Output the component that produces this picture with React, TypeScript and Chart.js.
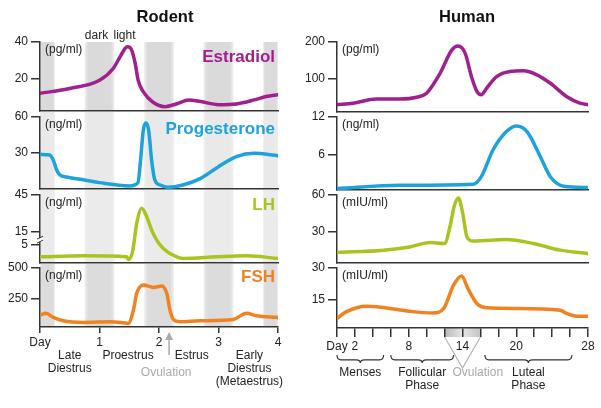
import React, { useEffect, useRef } from 'react';
import { Chart, registerables } from 'chart.js';

Chart.register(...registerables);

const FONT = '"Liberation Sans", Arial, Helvetica, sans-serif';
const TEXT = '#222222';
const AXIS = '#333333';

// ---------------- Rodent (days 0..4) ----------------
const rodentTickDays = [0, 1, 2, 3, 4];
const rodentTickLabels = ['Day', '1', '2', '3', '4'];
const darkStarts = [0, 0.75, 1.75, 2.75, 3.75];
const darkEnds = [0.25, 1.25, 2.25, 3.25, 4];
const rodentPhaseNames = ['Late\nDiestrus', 'Proestrus', 'Estrus', 'Early\nDiestrus\n(Metaestrus)'];
const rodentPhaseDays = [0.5, 1.48, 2.55, 3.52];
const rodentOvulationDay = 2.17;

const rE2Days = [0, 0.5, 1.0, 1.23, 1.345, 1.43, 1.474, 1.54, 1.6, 1.65, 1.74, 1.9, 2.1, 2.3, 2.5, 2.7, 3.0, 3.3, 3.6, 3.8, 4.0];
const rE2Vals = [11.7, 14.4, 18.9, 25.4, 31.8, 36.5, 37.4, 35.6, 28.2, 18.9, 12.4, 6.8, 4.4, 6, 8.1, 7.2, 5.5, 5.9, 8.1, 10, 11];

const rP4Days = [0, 0.12, 0.168, 0.224, 0.28, 0.336, 0.45, 0.75, 1.0, 1.5, 1.647, 1.69, 1.736, 1.78, 1.826, 1.876, 1.93, 2.02, 2.15, 2.4, 2.7, 3.0, 3.3, 3.6, 4.0];
const rP4Vals = [28.9, 28.6, 28.3, 24, 15.8, 11.7, 10, 7.5, 5.3, 2.5, 5.3, 24, 49, 55, 49, 24, 7.5, 3.3, 1.4, 3.3, 8.9, 18.6, 27, 29.7, 27.8];

const rLHDays = [0, 0.73, 1.457, 1.485, 1.557, 1.625, 1.709, 1.793, 1.877, 1.961, 2.073, 2.24, 2.41, 2.97, 3.47, 4.0];
const rLHVals = [-5, -4.2, -5, -7.2, -0.6, 22, 34.2, 27.4, 16.6, 8.5, 1.8, -3.7, -6.3, -5, -4.2, -6.3];

const rFSHDays = [0, 0.1, 0.224, 0.39, 0.73, 1.18, 1.4, 1.485, 1.57, 1.625, 1.68, 1.737, 1.905, 2.045, 2.13, 2.185, 2.24, 2.35, 2.69, 3.25, 3.47, 3.64, 3.81, 4.0];
const rFSHVals = [121, 135, 102, 75, 62, 67, 59, 54, 161, 296, 349, 363, 344, 355, 296, 161, 86, 67, 75, 86, 135, 115, 107, 102];

// ---------------- Human (days 0..28) ----------------
const humanTickDays = [0, 2, 4, 6, 8, 10, 12, 14, 16, 18, 20, 22, 24, 26, 28];
const humanLabelDays = [0, 2, 8, 14, 20, 28];
const humanLabelTexts = ['Day', '2', '8', '14', '20', '28'];
const humanPhaseNames = ['Menses', 'Follicular\nPhase', 'Luteal\nPhase'];
const humanPhaseStarts = [0, 6, 16.5];
const humanPhaseEnds = [5.2, 13, 26.2];
const humanOvulationWindow = [12, 16];
const humanOvulationDay = 14;
const humanOvulationLabelDay = 15.7;

const hE2Days = [0, 1.8, 4.4, 7, 8.9, 10, 11.5, 12.8, 13.5, 14.3, 15, 15.6, 16.1, 16.7, 17.8, 19.3, 20.8, 22.3, 23.8, 25.6, 27.1, 28];
const hE2Vals = [30, 34, 45, 45, 50, 61, 115, 178, 189, 169, 106, 66, 57, 75, 106, 120, 122, 111, 88, 52, 34, 30];

const hP4Days = [0, 7, 15.2, 16.1, 17.4, 18.9, 20, 21.2, 22.7, 23.8, 25.3, 28];
const hP4Vals = [0.74, 1.26, 1.42, 2.6, 6.8, 9.7, 10.6, 9.7, 5.7, 2.6, 1.1, 0.9];

const hLHDays = [0, 5.2, 8.1, 10.4, 12, 12.6, 13.06, 13.54, 14.03, 14.5, 15.2, 18.9, 21.9, 24.9, 28];
const hLHVals = [13.5, 15.4, 18, 21.6, 20.8, 34.3, 50.5, 57.6, 45, 26, 22.7, 24, 20.8, 15.4, 12.7];

const hFSHDays = [0, 1, 3.3, 5.1, 8.1, 10.7, 11.9, 13, 13.9, 14.6, 15.6, 16.7, 20, 24.9, 25.6, 26.8, 28];
const hFSHVals = [6.4, 9.5, 12.2, 11.6, 9.8, 9, 11.1, 22, 26.3, 20.5, 13.4, 11.4, 11.1, 10.3, 8.8, 7.5, 7.5];

const C_E2 = '#a0208e';
const C_P4 = '#1ca2dc';
const C_LH = '#a7c520';
const C_FSH = '#ef8322';

type Side = 'L' | 'R';
const SIDES = {
  L: { left: 0, width: 300, yAxisW: 40, right: 278, xMin: 0, xMax: 4 },
  R: { left: 300, width: 301, yAxisW: 37, right: 288, xMin: 0, xMax: 28 },
};

type PanelSpec = {
  id: string;
  side: Side;
  top: number;
  bottom: number;
  gap: number;
  band?: string;
  yMin: number;
  yMax: number;
  yTicks: number[];
  days: number[];
  values: number[];
  color: string;
  unit: string;
  name?: string;
  nameDy?: number;
  bottomAxis: boolean;
};

const PANELS: PanelSpec[] = [
  { id: 'rE2', side: 'L', top: 42, bottom: 111, gap: 0, band: '#dadada', yMin: 2, yMax: 40, yTicks: [40, 20], days: rE2Days, values: rE2Vals, color: C_E2, unit: '(pg/ml)', name: 'Estradiol', nameDy: 15, bottomAxis: false },
  { id: 'rP4', side: 'L', top: 117, bottom: 189, gap: 5, band: '#e9e9e9', yMin: 0, yMax: 60, yTicks: [60, 30], days: rP4Days, values: rP4Vals, color: C_P4, unit: '(ng/ml)', name: 'Progesterone', nameDy: 12, bottomAxis: false },
  { id: 'rLH', side: 'L', top: 195, bottom: 263, gap: 5, band: '#ebebeb', yMin: -10, yMax: 45, yTicks: [45, 15, 5], days: rLHDays, values: rLHVals, color: C_LH, unit: '(ng/ml)', name: 'LH', nameDy: 10, bottomAxis: false },
  { id: 'rFSH', side: 'L', top: 268, bottom: 327, gap: 4, band: '#dcdcdc', yMin: 25, yMax: 500, yTicks: [500, 250], days: rFSHDays, values: rFSHVals, color: C_FSH, unit: '(ng/ml)', name: 'FSH', nameDy: 9, bottomAxis: true },
  { id: 'hE2', side: 'R', top: 42, bottom: 112, gap: 0, yMin: 10, yMax: 200, yTicks: [200, 100], days: hE2Days, values: hE2Vals, color: C_E2, unit: '(pg/ml)', bottomAxis: false },
  { id: 'hP4', side: 'R', top: 117, bottom: 190, gap: 0, yMin: 0.5, yMax: 12, yTicks: [12, 6], days: hP4Days, values: hP4Vals, color: C_P4, unit: '(ng/ml)', bottomAxis: false },
  { id: 'hLH', side: 'R', top: 195, bottom: 263, gap: 0, yMin: 5, yMax: 60, yTicks: [60, 30], days: hLHDays, values: hLHVals, color: C_LH, unit: '(mIU/ml)', bottomAxis: false },
  { id: 'hFSH', side: 'R', top: 268, bottom: 328, gap: 0, yMin: 2, yMax: 30, yTicks: [30, 15], days: hFSHDays, values: hFSHVals, color: C_FSH, unit: '(mIU/ml)', bottomAxis: true },
];

const H = 408;
const X_AXIS_H = 30;

function drawLines(ctx: CanvasRenderingContext2D, text: string, x: number, y: number, lh: number) {
  text.split('\n').forEach((t, i) => ctx.fillText(t, x, y + i * lh));
}

function drawBrace(ctx: CanvasRenderingContext2D, x1: number, x2: number, y: number, h: number) {
  const mid = (x1 + x2) / 2;
  const ym = y + h * 0.6;
  ctx.beginPath();
  ctx.moveTo(x1, y);
  ctx.quadraticCurveTo(x1, ym, x1 + 4, ym);
  ctx.lineTo(mid - 4, ym);
  ctx.quadraticCurveTo(mid, ym, mid, y + h);
  ctx.quadraticCurveTo(mid, ym, mid + 4, ym);
  ctx.lineTo(x2 - 4, ym);
  ctx.quadraticCurveTo(x2, ym, x2, y);
  ctx.stroke();
}

function Panel({ spec }: { spec: PanelSpec }) {
  const ref = useRef<HTMLCanvasElement>(null);
  const side = SIDES[spec.side];
  useEffect(() => {
    const canvas = ref.current;
    if (!canvas) return;
    const isL = spec.side === 'L';
    const tickDays = isL ? rodentTickDays : humanTickDays;
    const labelFor = (v: number) => {
      if (isL) {
        const i = rodentTickDays.indexOf(v);
        return i >= 0 ? rodentTickLabels[i] : '';
      }
      const i = humanLabelDays.indexOf(v);
      return i >= 0 ? humanLabelTexts[i] : '';
    };

    const deco = {
      id: 'deco_' + spec.id,
      beforeDraw(chart: any) {
        const ctx: CanvasRenderingContext2D = chart.ctx;
        const a = chart.chartArea;
        const xs = chart.scales.x;
        ctx.save();
        if (isL && spec.band) {
          darkStarts.forEach((s, i) => {
            const x1 = xs.getPixelForValue(s);
            const x2 = xs.getPixelForValue(darkEnds[i]);
            const g = ctx.createLinearGradient(x1, 0, x2, 0);
            g.addColorStop(0, '#efefef');
            g.addColorStop(0.12, spec.band as string);
            g.addColorStop(0.88, spec.band as string);
            g.addColorStop(1, '#efefef');
            ctx.fillStyle = g;
            ctx.fillRect(x1, a.top - spec.gap, x2 - x1, a.bottom - a.top + spec.gap);
          });
        }
        if (spec.id === 'hFSH') {
          const x1 = xs.getPixelForValue(humanOvulationWindow[0]);
          const x2 = xs.getPixelForValue(humanOvulationWindow[1]);
          const g = ctx.createLinearGradient(x1, 0, x2, 0);
          g.addColorStop(0, '#b8b8b8');
          g.addColorStop(0.5, '#e6e6e6');
          g.addColorStop(1, '#c4c4c4');
          ctx.fillStyle = g;
          ctx.fillRect(x1, a.bottom, x2 - x1, 9);
        }
        ctx.restore();
      },
      afterDraw(chart: any) {
        const ctx: CanvasRenderingContext2D = chart.ctx;
        const a = chart.chartArea;
        const xs = chart.scales.x;
        const ys = chart.scales.y;
        ctx.save();
        ctx.font = `12px ${FONT}`;
        ctx.fillStyle = TEXT;
        ctx.textAlign = 'left';
        ctx.textBaseline = 'middle';
        ctx.fillText(spec.unit, a.left + 5, a.top + 8);
        if (spec.name) {
          ctx.font = `bold 17px ${FONT}`;
          ctx.fillStyle = spec.color;
          ctx.textAlign = 'right';
          ctx.fillText(spec.name, a.right - 3, a.top + (spec.nameDy || 12));
        }
        if (spec.id === 'rE2') {
          ctx.font = `bold 16.5px ${FONT}`;
          ctx.fillStyle = '#111';
          ctx.textAlign = 'center';
          ctx.fillText('Rodent', 165, 17);
          ctx.font = `12px ${FONT}`;
          ctx.fillStyle = TEXT;
          ctx.fillText('dark', xs.getPixelForValue(0.95), 36);
          ctx.fillText('light', xs.getPixelForValue(1.42), 36);
        }
        if (spec.id === 'hE2') {
          ctx.font = `bold 16.5px ${FONT}`;
          ctx.fillStyle = '#111';
          ctx.textAlign = 'center';
          ctx.fillText('Human', 167, 17);
        }
        if (spec.id === 'rLH') {
          const yb = ys.getPixelForValue(8.5);
          ctx.fillStyle = '#ffffff';
          ctx.fillRect(a.left - 3, yb - 2, 6, 4);
          ctx.strokeStyle = AXIS;
          ctx.lineWidth = 1;
          ctx.beginPath();
          ctx.moveTo(a.left - 3, yb - 1); ctx.lineTo(a.left + 3, yb - 4);
          ctx.moveTo(a.left - 3, yb + 3); ctx.lineTo(a.left + 3, yb);
          ctx.stroke();
        }
        if (spec.id === 'rFSH') {
          ctx.font = `12px ${FONT}`;
          ctx.fillStyle = TEXT;
          ctx.textAlign = 'center';
          ctx.textBaseline = 'middle';
          rodentPhaseNames.forEach((n, i) => {
            drawLines(ctx, n, xs.getPixelForValue(rodentPhaseDays[i]), a.bottom + 29, 12.7);
          });
          const ax = xs.getPixelForValue(rodentOvulationDay);
          ctx.strokeStyle = '#aaaaaa';
          ctx.fillStyle = '#aaaaaa';
          ctx.lineWidth = 1.5;
          ctx.beginPath();
          ctx.moveTo(ax, a.bottom + 28);
          ctx.lineTo(ax, a.bottom + 12);
          ctx.stroke();
          ctx.beginPath();
          ctx.moveTo(ax, a.bottom + 5);
          ctx.lineTo(ax - 4, a.bottom + 13);
          ctx.lineTo(ax + 4, a.bottom + 13);
          ctx.closePath();
          ctx.fill();
          ctx.fillText('Ovulation', xs.getPixelForValue(2.12), a.bottom + 45.5);
        }
        if (spec.id === 'hFSH') {
          const x1 = xs.getPixelForValue(humanOvulationWindow[0]);
          const x2 = xs.getPixelForValue(humanOvulationWindow[1]);
          const xc = xs.getPixelForValue(humanOvulationDay);
          ctx.strokeStyle = '#b4b4b4';
          ctx.lineWidth = 1.2;
          ctx.beginPath();
          ctx.moveTo(x1, a.bottom + 9);
          ctx.lineTo(xc, a.bottom + 40);
          ctx.lineTo(x2, a.bottom + 9);
          ctx.stroke();
          ctx.strokeStyle = '#333';
          ctx.lineWidth = 1.2;
          humanPhaseNames.forEach((n, i) => {
            const s = xs.getPixelForValue(humanPhaseStarts[i]);
            const e = xs.getPixelForValue(humanPhaseEnds[i]);
            drawBrace(ctx, s, e, a.bottom + 27, 8);
          });
          ctx.font = `12px ${FONT}`;
          ctx.fillStyle = TEXT;
          ctx.textAlign = 'center';
          ctx.textBaseline = 'middle';
          humanPhaseNames.forEach((n, i) => {
            const c = xs.getPixelForValue((humanPhaseStarts[i] + humanPhaseEnds[i]) / 2);
            drawLines(ctx, n, c, a.bottom + 45, 13);
          });
          ctx.fillStyle = '#aaaaaa';
          ctx.fillText('Ovulation', xs.getPixelForValue(humanOvulationLabelDay), a.bottom + 45);
        }
        ctx.restore();
      },
    };

    const xScale: any = {
      type: 'linear',
      min: side.xMin,
      max: side.xMax,
      display: true,
      border: { display: true, color: AXIS, width: 1.5 },
    };
    if (spec.bottomAxis) {
      xScale.afterBuildTicks = (s: any) => {
        s.ticks = tickDays.map((v) => ({ value: v }));
      };
      xScale.ticks = {
        autoSkip: false,
        maxRotation: 0,
        padding: 2,
        color: TEXT,
        font: { family: FONT, size: 12 },
        callback: (v: any) => labelFor(Number(v)),
      };
      xScale.grid = { display: true, drawOnChartArea: false, drawTicks: true, tickLength: isL ? 6 : 9, color: AXIS, lineWidth: 1.5 };
      xScale.afterFit = (s: any) => { s.height = X_AXIS_H; };
    } else {
      xScale.ticks = { display: false };
      xScale.grid = { display: false };
      xScale.afterFit = (s: any) => { s.height = 0; };
    }

    const chart = new Chart(canvas, {
      type: 'line',
      data: {
        datasets: [
          {
            data: spec.days.map((d, i) => ({ x: d, y: spec.values[i] })),
            borderColor: spec.color,
            borderWidth: 3.5,
            pointRadius: 0,
            cubicInterpolationMode: 'monotone',
            borderCapStyle: 'round',
            borderJoinStyle: 'round',
            fill: false,
          } as any,
        ],
      },
      options: {
        responsive: false,
        animation: false,
        devicePixelRatio: 1,
        events: [],
        layout: {
          padding: {
            top: spec.top,
            bottom: H - spec.bottom - (spec.bottomAxis ? X_AXIS_H : 0),
            left: 0,
            right: side.width - side.right,
          },
        },
        plugins: {
          legend: { display: false },
          tooltip: { enabled: false },
          title: { display: false },
        },
        scales: {
          x: xScale,
          y: {
            type: 'linear',
            min: spec.yMin,
            max: spec.yMax,
            afterBuildTicks: (s: any) => {
              s.ticks = spec.yTicks.map((v) => ({ value: v }));
            },
            ticks: {
              padding: 3,
              color: TEXT,
              font: { family: FONT, size: 12 },
            },
            grid: { display: true, drawOnChartArea: false, drawTicks: true, tickLength: 9, color: AXIS, lineWidth: 1.5 },
            border: { display: true, color: AXIS, width: 1.5 },
            afterFit: (s: any) => { s.width = side.yAxisW; },
          } as any,
        },
      },
      plugins: [deco],
    });
    return () => chart.destroy();
  }, []);
  return (
    <canvas
      ref={ref}
      width={side.width}
      height={H}
      style={{ position: 'absolute', left: side.left, top: 0, width: side.width, height: H }}
    />
  );
}

export default function App() {
  return (
    <div style={{ position: 'absolute', left: 0, top: 0, width: 601, height: 408, background: '#ffffff', overflow: 'hidden' }}>
      {PANELS.map((p) => (
        <Panel key={p.id} spec={p} />
      ))}
    </div>
  );
}
